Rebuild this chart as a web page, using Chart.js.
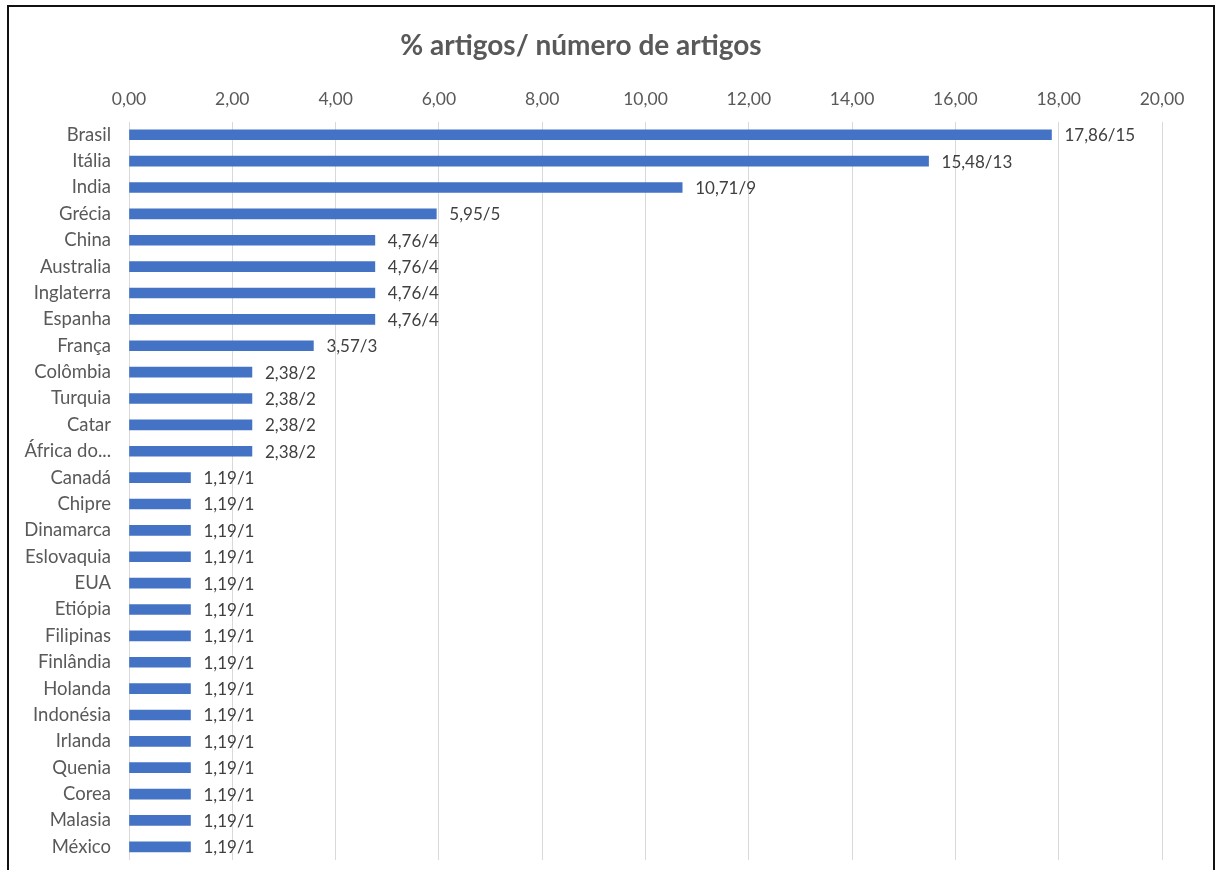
<!DOCTYPE html>
<html>
<head>
<meta charset="utf-8">
<script src="https://cdn.jsdelivr.net/npm/chart.js@4"></script>
<style>
  body { margin: 0; background: #fff; }
  #wrap { position: relative; width: 1216px; height: 870px; overflow: hidden; }
  #chart { display: block; }
  #frame { position: absolute; left: 7px; top: 5px; width: 1204px; height: 900px;
           border: 2px solid #111; border-bottom: none; pointer-events: none; }
</style>
</head>
<body>
<div id="wrap">
  <canvas id="chart" width="1216" height="870"></canvas>
  <div id="frame"></div>
</div>
<script>
// chart data
const countries = ['Brasil', 'Itália', 'India', 'Grécia', 'China', 'Australia', 'Inglaterra',
  'Espanha', 'França', 'Colômbia', 'Turquia', 'Catar', 'África do...', 'Canadá', 'Chipre',
  'Dinamarca', 'Eslovaquia', 'EUA', 'Etiópia', 'Filipinas', 'Finlândia', 'Holanda',
  'Indonésia', 'Irlanda', 'Quenia', 'Corea', 'Malasia', 'México'];
const percents = [17.86, 15.48, 10.71, 5.95, 4.76, 4.76, 4.76, 4.76, 3.57, 2.38, 2.38, 2.38, 2.38,
  1.19, 1.19, 1.19, 1.19, 1.19, 1.19, 1.19, 1.19, 1.19, 1.19, 1.19, 1.19, 1.19, 1.19, 1.19];
const counts = [15, 13, 9, 5, 4, 4, 4, 4, 3, 2, 2, 2, 2,
  1, 1, 1, 1, 1, 1, 1, 1, 1, 1, 1, 1, 1, 1, 1];

const FONT = 'Lato, "Open Sans", sans-serif';
const fmt = v => v.toFixed(2).replace('.', ',');

// draws "17,86/15" after each bar
const barLabels = {
  id: 'barLabels',
  afterDatasetsDraw(chart) {
    const ctx = chart.ctx;
    const meta = chart.getDatasetMeta(0);
    ctx.save();
    ctx.font = '17px ' + FONT;
    ctx.fillStyle = '#404040';
    ctx.textAlign = 'left';
    ctx.textBaseline = 'middle';
    meta.data.forEach((bar, i) => {
      ctx.fillText(fmt(percents[i]) + '/' + counts[i], bar.x + 13, bar.y + 1);
    });
    ctx.restore();
  }
};

new Chart(document.getElementById('chart'), {
  type: 'bar',
  data: {
    labels: countries,
    datasets: [{
      data: percents,
      backgroundColor: '#4472C4',
      barThickness: 10
    }]
  },
  options: {
    indexAxis: 'y',
    responsive: false,
    animation: false,
    layout: { padding: { left: 0, right: 54, top: 0, bottom: 10 } },
    plugins: {
      legend: { display: false },
      tooltip: { enabled: false },
      title: {
        display: true,
        text: '% artigos/ número de artigos',
        color: '#595959',
        font: { family: FONT, size: 28, weight: 'bold' },
        padding: { top: 29, bottom: 6 }
      }
    },
    scales: {
      x: {
        position: 'top',
        min: 0,
        max: 20,
        ticks: {
          stepSize: 2,
          color: '#595959',
          font: { family: FONT, size: 17.5 },
          padding: 12,
          callback: v => fmt(v)
        },
        grid: { color: '#d9d9d9', drawTicks: false },
        border: { display: false },
        afterFit: s => { s.height = 53; }
      },
      y: {
        ticks: {
          color: '#595959',
          font: { family: FONT, size: 18.5 },
          padding: 18,
          autoSkip: false
        },
        grid: { display: false, drawTicks: false },
        border: { display: false },
        afterFit: s => { s.width = 129; s.paddingTop = 0; s.paddingBottom = 0; }
      }
    }
  },
  plugins: [barLabels]
});
</script>
</body>
</html>
